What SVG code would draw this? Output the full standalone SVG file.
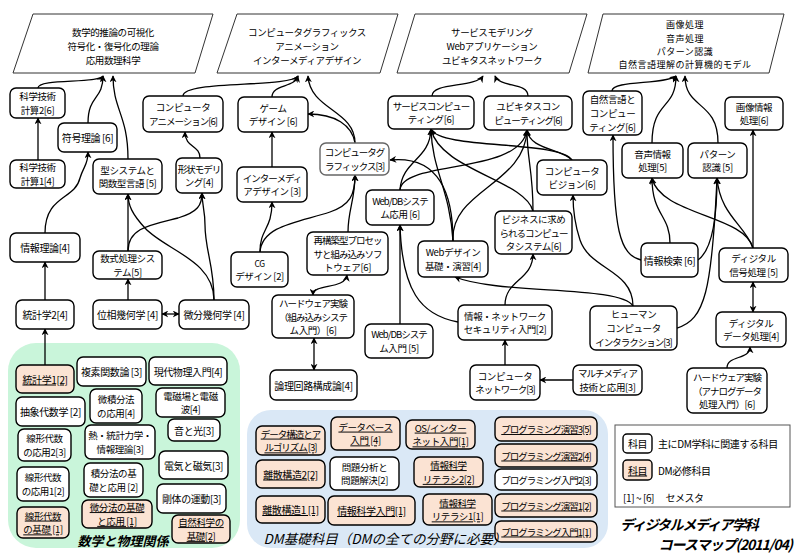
<svg xmlns="http://www.w3.org/2000/svg" width="800" height="554" viewBox="0 0 800 554">
<style>
text{font-family:"Noto Sans CJK JP","Noto Sans",sans-serif;font-size:9.5px;text-anchor:middle;dominant-baseline:central;fill:#000;letter-spacing:-0.4px}
.s{font-size:10px}
.t{letter-spacing:-1px}
.nd rect{fill:#fff;stroke:#000;stroke-width:1.4}
.pk rect{fill:#fbe3d3}
.pk text{text-decoration:underline}
.pg polygon{fill:#fff;stroke:#333;stroke-width:1}
.cn path{fill:none;stroke:#000;stroke-width:1.3;marker-end:url(#a)}
.cn path.d{marker-start:url(#a)}
.lbl{font-style:italic;font-weight:bold;letter-spacing:0}
</style>
<defs>
<marker id="a" viewBox="0 0 10 10" refX="9" refY="5" markerWidth="7" markerHeight="7" markerUnits="userSpaceOnUse" orient="auto-start-reverse"><path d="M0,0 L10,5 L0,10 L3,5 z" fill="#000"/></marker>
</defs>
<rect width="800" height="554" fill="#fff"/>
<!-- areas -->
<rect x="8" y="343" width="232" height="205" rx="28" fill="#c9f5da"/>
<rect x="247" y="410" width="361" height="138" rx="24" fill="#dae8f6"/>
<rect x="615" y="425" width="175" height="82" fill="#fff" stroke="#555" stroke-width="1"/>
<!-- parallelograms -->
<g id="P1" class="pg"><polygon points="33,14 213,14 195,73 13,73"/><text y="32"><tspan x="113">数学的推論の可視化</tspan><tspan x="113" dy="13.8">符号化・復号化の理論</tspan><tspan x="113" dy="13.8">応用数理科学</tspan></text></g>
<g id="P2" class="pg"><polygon points="237,14 398,14 380,73 217,73"/><text y="32"><tspan x="307">コンピュータグラフィックス</tspan><tspan x="307" dy="13.8">アニメーション</tspan><tspan x="307" dy="13.8">インターメディアデザイン</tspan></text></g>
<g id="P3" class="pg"><polygon points="415,14 587,14 569,73 397,73"/><text y="32"><tspan x="492">サービスモデリング</tspan><tspan x="492" dy="13.8">Webアプリケーション</tspan><tspan x="492" dy="13.8">ユビキタスネットワーク</tspan></text></g>
<g id="P4" class="pg"><polygon points="603,14 784,14 769,73 588,73"/><text y="24.4" style="font-size:9px;letter-spacing:0.5px"><tspan x="685">画像処理</tspan><tspan x="685" dy="13.1">音声処理</tspan><tspan x="685" dy="13.1">パターン認識</tspan><tspan x="685" dy="13.1">自然言語理解の計算機的モデル</tspan></text></g>
<!-- connectors -->
<g id="connectors" class="cn">
<path d="M38,88 C38,78 98,84 103,76"/>
<path d="M88,123 C88,95 103,100 103,76"/>
<path d="M128,159 C128,115 113,110 113,76"/>
<path d="M38,160 L38,118"/>
<path d="M45,233 C45,195 75,200 80,178 C84,165 88,165 88,152"/>
<path d="M45,300 L45,262"/>
<path d="M45,365 L45,329"/>
<path d="M128,251 L128,194"/>
<path d="M128,251 C128,228 150,225 178,218 C198,212 202,205 202,193"/>
<path d="M214,300 C214,265 205,250 205,225 C205,210 202,205 202,193"/>
<path d="M214,300 C214,260 165,250 145,228 C132,214 128,205 128,194"/>
<path d="M128,300 L128,279"/>
<path class="d" d="M162,314 L179,314"/>
<path d="M200,158 C200,145 185,148 185,132"/>
<path d="M183,96 C183,80 290,88 298,76"/>
<path d="M272,97 C272,84 295,88 298,76"/>
<path d="M355,143 C355,110 310,110 308,76"/>
<path d="M355,143 C352,125 335,114 308,114"/>
<path d="M272,167 L272,132"/>
<path d="M260,252 C260,228 272,230 272,202"/>
<path d="M260,252 C262,225 300,222 330,212 C350,205 355,195 355,175"/>
<path d="M348,232 C348,210 355,200 355,175"/>
<path class="d" d="M313,295 C313,283 345,290 347,275"/>
<path class="d" d="M314,338 L314,370"/>
<path d="M432,96 C432,82 475,88 483,76"/>
<path d="M528,96 C528,82 500,88 495,76"/>
<path d="M400,190 C402,160 430,160 431,129"/>
<path d="M400,190 C402,160 520,175 527,130"/>
<path d="M453,241 C450,190 432,170 431,129"/>
<path d="M453,241 C450,190 525,185 527,130"/>
<path d="M453,241 C453,195 440,155 390,160"/>
<path d="M572,160 C560,140 440,150 431,129"/>
<path d="M572,160 C560,148 530,150 527,130"/>
<path d="M533,211 C533,170 527,160 527,130"/>
<path d="M533,211 C525,180 440,170 431,129"/>
<path d="M458,322 C420,315 402,290 400,225"/>
<path d="M400,324 L400,225"/>
<path d="M505,305 C505,280 533,280 533,254"/>
<path d="M505,365 L505,340"/>
<path d="M573,380 L540,380"/>
<path d="M633,306 C633,270 590,270 580,240 C574,222 573,210 573,195"/>
<path d="M633,306 C620,285 500,295 455,277"/>
<path d="M677,328 C705,320 712,290 717,178"/>
<path d="M641,260 C620,255 613,230 613,135"/>
<path d="M670,243 C670,215 652,215 652,178"/>
<path d="M698,260 C712,250 717,220 717,178"/>
<path d="M753,248 C745,215 660,215 652,178"/>
<path d="M753,248 C745,225 720,215 717,178"/>
<path d="M753,248 L753,130"/>
<path class="d" d="M753,282 L753,312"/>
<path d="M727,368 C727,355 750,360 750,347"/>
<path d="M612,91 C612,80 665,85 676,76"/>
<path d="M652,143 C652,100 676,110 676,76"/>
<path d="M718,143 C718,100 685,110 685,76"/>
</g>
<!-- left cluster nodes -->
<g id="n1" class="nd"><rect x="10" y="88" width="55" height="30" rx="6"/><text y="96.1"><tspan x="37.5">科学技術</tspan><tspan x="37.5" dy="13.8">計算2[6]</tspan></text></g>
<g id="n2" class="nd"><rect x="58" y="123" width="59" height="29" rx="6"/><text class="s" x="87.5" y="137.5">符号理論 [6]</text></g>
<g id="n3" class="nd"><rect x="10" y="160" width="55" height="28" rx="6"/><text y="167.1"><tspan x="37.5">科学技術</tspan><tspan x="37.5" dy="13.8">計算1[4]</tspan></text></g>
<g id="n4" class="nd"><rect x="93" y="159" width="69" height="35" rx="6"/><text y="169.6"><tspan x="127.5">型システムと</tspan><tspan x="127.5" dy="13.8">関数型言語 [5]</tspan></text></g>
<g id="n5" class="nd"><rect x="176" y="158" width="46" height="35" rx="6"/><text y="168.6"><tspan x="199" class="t">形状モデリ</tspan><tspan x="199" dy="13.8">ング[4]</tspan></text></g>
<g id="n6" class="nd"><rect x="143" y="96" width="80" height="36" rx="6"/><text y="107.1"><tspan x="183">コンピュータ</tspan><tspan x="183" dy="13.8" class="t">アニメーション[6]</tspan></text></g>
<g id="n7" class="nd"><rect x="238" y="97" width="70" height="35" rx="6"/><text y="107.6"><tspan x="273">ゲーム</tspan><tspan x="273" dy="13.8">デザイン [6]</tspan></text></g>
<g id="n8" class="nd"><rect x="237" y="167" width="70" height="35" rx="6"/><text y="177.6"><tspan x="272" class="t">インターメディ</tspan><tspan x="272" dy="13.8">アデザイン [3]</tspan></text></g>
<g id="n9" class="nd"><rect x="320" y="143" width="69" height="32" rx="6" style="stroke:#666"/><text y="152.1"><tspan x="354.5" class="t">コンピュータグ</tspan><tspan x="354.5" dy="13.8" class="t">ラフィックス[3]</tspan></text></g>
<g id="n10" class="nd"><rect x="231" y="252" width="57" height="35" rx="6"/><text y="262.6"><tspan x="259.5" style="font-size:8.5px">CG</tspan><tspan x="259.5" dy="13.8">デザイン [2]</tspan></text></g>
<g id="n11" class="nd"><rect x="307" y="232" width="81" height="43" rx="6"/><text y="239.7"><tspan x="347.5" class="t">再構築型プロセッ</tspan><tspan x="347.5" dy="13.8" class="t">サと組み込みソフ</tspan><tspan x="347.5" dy="13.8">トウェア[6]</tspan></text></g>
<g id="n12" class="nd"><rect x="272" y="295" width="82" height="43" rx="6"/><text y="302.7"><tspan x="313" class="t">ハードウェア実験</tspan><tspan x="313" dy="13.8" class="t">（組み込みシステ</tspan><tspan x="313" dy="13.8">ム入門）[6]</tspan></text></g>
<g id="n13" class="nd"><rect x="270" y="370" width="87" height="30" rx="6"/><text class="s" x="313.5" y="385">論理回路構成論[4]</text></g>
<g id="n14" class="nd"><rect x="10" y="233" width="70" height="29" rx="6"/><text class="s" x="45" y="247.5">情報理論[4]</text></g>
<g id="n15" class="nd"><rect x="93" y="251" width="69" height="28" rx="6"/><text y="258.1"><tspan x="127.5">数式処理シス</tspan><tspan x="127.5" dy="13.8">テム[5]</tspan></text></g>
<g id="n16" class="nd"><rect x="16" y="300" width="58" height="29" rx="6"/><text class="s" x="45" y="314.5">統計学2[4]</text></g>
<g id="n17" class="nd"><rect x="93" y="300" width="69" height="29" rx="6"/><text class="s" x="127.5" y="314.5">位相幾何学 [4]</text></g>
<g id="n18" class="nd"><rect x="179" y="300" width="70" height="29" rx="6"/><text class="s" x="214" y="314.5">微分幾何学 [4]</text></g>
<!-- right cluster nodes -->
<g id="r1" class="nd"><rect x="388" y="96" width="86" height="33" rx="6"/><text y="105.6"><tspan x="431" class="t">サービスコンピュー</tspan><tspan x="431" dy="13.8">ティング[6]</tspan></text></g>
<g id="r2" class="nd"><rect x="484" y="96" width="88" height="34" rx="6"/><text y="106.1"><tspan x="528">ユビキタスコン</tspan><tspan x="528" dy="13.8" class="t">ピューティング[6]</tspan></text></g>
<g id="r3" class="nd"><rect x="583" y="91" width="59" height="44" rx="6"/><text y="99.2"><tspan x="612.5">自然言語と</tspan><tspan x="612.5" dy="13.8">コンピュー</tspan><tspan x="612.5" dy="13.8">ティング[6]</tspan></text></g>
<g id="r4" class="nd"><rect x="725" y="97" width="58" height="33" rx="6"/><text y="106.6"><tspan x="754">画像情報</tspan><tspan x="754" dy="13.8">処理[6]</tspan></text></g>
<g id="r5" class="nd"><rect x="622" y="143" width="61" height="35" rx="6"/><text y="153.6"><tspan x="652.5">音声情報</tspan><tspan x="652.5" dy="13.8">処理[5]</tspan></text></g>
<g id="r6" class="nd"><rect x="688" y="143" width="59" height="35" rx="6"/><text y="153.6"><tspan x="717.5">パターン</tspan><tspan x="717.5" dy="13.8">認識 [5]</tspan></text></g>
<g id="r7" class="nd"><rect x="537" y="160" width="70" height="35" rx="6"/><text y="170.6"><tspan x="572">コンピュータ</tspan><tspan x="572" dy="13.8">ビジョン[6]</tspan></text></g>
<g id="r8" class="nd"><rect x="366" y="190" width="68" height="35" rx="6"/><text y="200.6"><tspan x="400" class="t">Web/DBシステ</tspan><tspan x="400" dy="13.8">ム応用 [6]</tspan></text></g>
<g id="r9" class="nd"><rect x="495" y="211" width="77" height="43" rx="6"/><text y="218.7"><tspan x="533.5">ビジネスに求め</tspan><tspan x="533.5" dy="13.8" class="t">られるコンピュー</tspan><tspan x="533.5" dy="13.8">タシステム[6]</tspan></text></g>
<g id="r10" class="nd"><rect x="418" y="241" width="70" height="36" rx="6"/><text y="252.1"><tspan x="453">Webデザイン</tspan><tspan x="453" dy="13.8">基礎・演習[4]</tspan></text></g>
<g id="r11" class="nd"><rect x="365" y="324" width="68" height="34" rx="6"/><text y="334.1"><tspan x="399" class="t">Web/DBシステ</tspan><tspan x="399" dy="13.8">ム入門 [5]</tspan></text></g>
<g id="r12" class="nd"><rect x="458" y="305" width="94" height="35" rx="6"/><text y="315.6"><tspan x="505">情報・ネットワーク</tspan><tspan x="505" dy="13.8">セキュリティ入門[2]</tspan></text></g>
<g id="r13" class="nd"><rect x="590" y="306" width="87" height="44" rx="6"/><text y="314.2"><tspan x="633.5">ヒューマン</tspan><tspan x="633.5" dy="13.8">コンピュータ</tspan><tspan x="633.5" dy="13.8" class="t">インタラクション[3]</tspan></text></g>
<g id="r14" class="nd"><rect x="641" y="243" width="57" height="34" rx="6"/><text class="s" x="669.5" y="260">情報検索 [6]</text></g>
<g id="r15" class="nd"><rect x="719" y="248" width="69" height="34" rx="6"/><text y="258.1"><tspan x="753.5">ディジタル</tspan><tspan x="753.5" dy="13.8">信号処理 [5]</tspan></text></g>
<g id="r16" class="nd"><rect x="716" y="312" width="70" height="35" rx="6"/><text y="322.6"><tspan x="751">ディジタル</tspan><tspan x="751" dy="13.8">データ処理[4]</tspan></text></g>
<g id="r17" class="nd"><rect x="470" y="365" width="70" height="35" rx="6"/><text y="375.6"><tspan x="505">コンピュータ</tspan><tspan x="505" dy="13.8" class="t">ネットワーク[3]</tspan></text></g>
<g id="r18" class="nd"><rect x="573" y="365" width="69" height="30" rx="6"/><text y="373.1"><tspan x="607.5" class="t">マルチメディア</tspan><tspan x="607.5" dy="13.8">技術と応用[3]</tspan></text></g>
<g id="r19" class="nd"><rect x="687" y="368" width="80" height="45" rx="6"/><text y="376.7"><tspan x="727" class="t">ハードウェア実験</tspan><tspan x="727" dy="13.8" class="t">（アナログデータ</tspan><tspan x="727" dy="13.8">処理入門）[6]</tspan></text></g>
<!-- green area nodes -->
<g id="g1" class="nd pk"><rect x="16" y="365" width="58" height="28" rx="6"/><text class="s" x="45" y="379">統計学1[2]</text></g>
<g id="g2" class="nd"><rect x="77" y="357" width="69" height="29" rx="6"/><text class="s" x="111.5" y="371.5">複素関数論 [3]</text></g>
<g id="g3" class="nd"><rect x="149" y="357" width="78" height="28" rx="6"/><text class="s" x="188" y="371">現代物理入門[4]</text></g>
<g id="g4" class="nd"><rect x="16" y="397" width="69" height="29" rx="6"/><text class="s" x="50.5" y="411.5">抽象代数学 [2]</text></g>
<g id="g5" class="nd"><rect x="90" y="389" width="52" height="34" rx="6"/><text y="399.1"><tspan x="116">微積分法</tspan><tspan x="116" dy="13.8">の応用[4]</tspan></text></g>
<g id="g6" class="nd"><rect x="156" y="388" width="69" height="29" rx="6"/><text y="395.6"><tspan x="190.5">電磁場と電磁</tspan><tspan x="190.5" dy="13.8">波[4]</tspan></text></g>
<g id="g7" class="nd"><rect x="168" y="419" width="52" height="22" rx="6"/><text class="s" x="194" y="430">音と光[3]</text></g>
<g id="g8" class="nd"><rect x="18" y="429" width="53" height="32" rx="6"/><text y="438.1"><tspan x="44.5">線形代数</tspan><tspan x="44.5" dy="13.8">の応用2[3]</tspan></text></g>
<g id="g9" class="nd"><rect x="85" y="425" width="70" height="34" rx="6"/><text y="435.1"><tspan x="120">熱・統計力学・</tspan><tspan x="120" dy="13.8">情報理論[3]</tspan></text></g>
<g id="g10" class="nd"><rect x="159" y="451" width="69" height="28" rx="6"/><text class="s" x="193.5" y="465">電気と磁気[3]</text></g>
<g id="g11" class="nd"><rect x="17" y="467" width="52" height="34" rx="6"/><text y="477.1"><tspan x="43">線形代数</tspan><tspan x="43" dy="13.8">の応用1[2]</tspan></text></g>
<g id="g12" class="nd"><rect x="84" y="463" width="59" height="34" rx="6"/><text y="473.1"><tspan x="113.5">積分法の基</tspan><tspan x="113.5" dy="13.8">礎と応用 [2]</tspan></text></g>
<g id="g13" class="nd"><rect x="157" y="484" width="69" height="29" rx="6"/><text class="s" x="191.5" y="498.5">剛体の運動[3]</text></g>
<g id="g14" class="nd pk"><rect x="17" y="507" width="52" height="31" rx="6"/><text y="515.6"><tspan x="43">線形代数</tspan><tspan x="43" dy="13.8">の基礎 [1]</tspan></text></g>
<g id="g15" class="nd pk"><rect x="82" y="500" width="70" height="28" rx="6"/><text y="507.1"><tspan x="117">微分法の基礎</tspan><tspan x="117" dy="13.8">と応用 [1]</tspan></text></g>
<g id="g16" class="nd pk"><rect x="172" y="515" width="58" height="28" rx="6"/><text y="522.1"><tspan x="201">自然科学の</tspan><tspan x="201" dy="13.8">基礎[2]</tspan></text></g>
<text class="lbl" x="123" y="540" style="font-size:13px">数学と物理関係</text>
<!-- blue area nodes -->
<g id="b1" class="nd pk"><rect x="256" y="426" width="69" height="29" rx="6"/><text y="433.6"><tspan x="290.5" class="t">データ構造とア</tspan><tspan x="290.5" dy="13.8" class="t">ルゴリズム [3]</tspan></text></g>
<g id="b2" class="nd pk"><rect x="331" y="417" width="69" height="33" rx="6"/><text y="426.6"><tspan x="365.5">データベース</tspan><tspan x="365.5" dy="13.8">入門 [4]</tspan></text></g>
<g id="b3" class="nd pk"><rect x="406" y="420" width="69" height="29" rx="6"/><text y="427.6"><tspan x="440.5">OS/インター</tspan><tspan x="440.5" dy="13.8">ネット入門[1]</tspan></text></g>
<g id="b4" class="nd pk"><rect x="256" y="460" width="69" height="28" rx="6"/><text class="s" x="290.5" y="474">離散構造2[2]</text></g>
<g id="b5" class="nd"><rect x="330" y="457" width="69" height="33" rx="6"/><text y="466.6"><tspan x="364.5">問題分析と</tspan><tspan x="364.5" dy="13.8">問題解決[2]</tspan></text></g>
<g id="b6" class="nd pk"><rect x="414" y="457" width="69" height="30" rx="6"/><text y="465.1"><tspan x="448.5">情報科学</tspan><tspan x="448.5" dy="13.8">リテラシ2[2]</tspan></text></g>
<g id="b7" class="nd pk"><rect x="256" y="496" width="69" height="27" rx="6"/><text class="s" x="290.5" y="509.5">離散構造1 [1]</text></g>
<g id="b8" class="nd pk"><rect x="328" y="496" width="87" height="29" rx="6"/><text class="s" x="371.5" y="510.5">情報科学入門[1]</text></g>
<g id="b9" class="nd pk"><rect x="423" y="494" width="69" height="31" rx="6"/><text y="502.6"><tspan x="457.5">情報科学</tspan><tspan x="457.5" dy="13.8">リテラシ1[1]</tspan></text></g>
<g id="p1" class="nd pk"><rect x="495" y="417" width="102" height="24" rx="6"/><text class="t" x="546" y="429">プログラミング演習3[5]</text></g>
<g id="p2" class="nd pk"><rect x="495" y="444" width="102" height="23" rx="6"/><text class="t" x="546" y="455.5">プログラミング演習2[4]</text></g>
<g id="p3" class="nd"><rect x="495" y="469" width="102" height="21" rx="6"/><text class="t" x="546" y="479.5">プログラミング入門2[3]</text></g>
<g id="p4" class="nd pk"><rect x="495" y="494" width="102" height="23" rx="6"/><text class="t" x="546" y="505.5">プログラミング演習1[2]</text></g>
<g id="p5" class="nd pk"><rect x="495" y="521" width="102" height="21" rx="6"/><text class="t" x="546" y="531.5">プログラミング入門1[1]</text></g>
<text class="lbl" x="385" y="538" style="font-size:13.5px;font-weight:normal">DM基礎科目（DMの全ての分野に必要）</text>
<!-- legend -->
<g id="legend">
<g class="nd"><rect x="623" y="434" width="29" height="19" rx="4"/><text class="s" x="637.5" y="443.5">科目</text></g>
<text class="s" x="658" y="443.5" style="text-anchor:start">主にDM学科に関連する科目</text>
<g class="nd pk"><rect x="623" y="460" width="29" height="20" rx="4"/><text class="s" x="637.5" y="470">科目</text></g>
<text class="s" x="658" y="470" style="text-anchor:start">DM必修科目</text>
<text class="s" x="623" y="497" style="text-anchor:start">[1] ~ [6]　 セメスタ</text>
</g>
<text class="lbl" x="620" y="523.5" style="font-size:14px;text-anchor:start;letter-spacing:-1.3px">ディジタルメディア学科</text>
<text class="lbl" x="792" y="544" style="font-size:14px;text-anchor:end;letter-spacing:-1px">コースマップ(2011/04)</text>
</svg>
